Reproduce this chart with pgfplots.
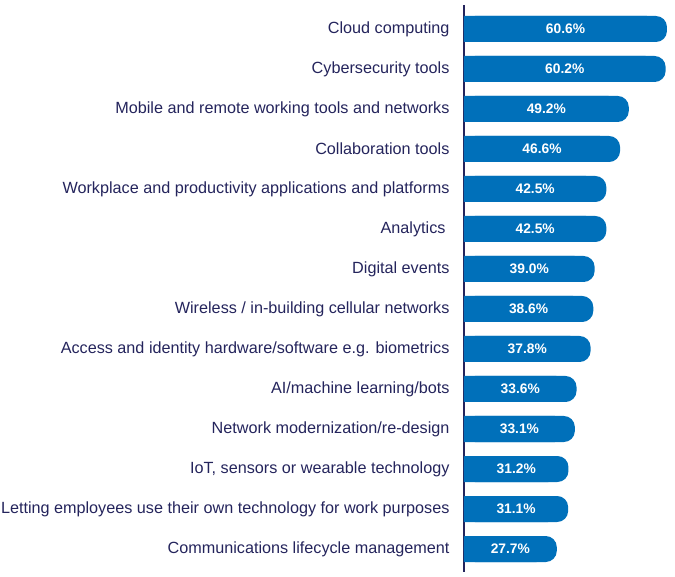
\documentclass[border=0pt]{standalone}
\usepackage{pgfplots}
\pgfplotsset{compat=1.18}
\usepackage{pgfplotstable}
\usepackage{fontspec}
\setmainfont{Liberation Sans}

\definecolor{barblue}{HTML}{0070BA}
\definecolor{navy}{HTML}{24245C}

% i = row from the top, v = share in percent
\pgfplotstableread{
i v
0 60.6
1 60.2
2 49.2
3 46.6
4 42.5
5 42.5
6 39.0
7 38.6
8 37.8
9 33.6
10 33.1
11 31.2
12 31.1
13 27.7
}\data

\begin{document}
\begin{tikzpicture}
\useasboundingbox (-464pt,-5pt) rectangle (211pt,572pt);
\begin{axis}[
  at={(0,0)}, anchor=south west,
  scale only axis,
  width=211pt, height=567pt,
  xmin=0, xmax=63,
  ymin=-0.6, ymax=13.575,
  y dir=reverse,
  axis x line=none,
  axis y line=left,
  y axis line style={-, draw=navy, line width=1.4pt},
  major tick length=0pt,
  ytick={0,...,13},
  yticklabels={
    Cloud computing,
    Cybersecurity tools,
    Mobile and remote working tools and networks,
    Collaboration tools,
    Workplace and productivity applications and platforms,
    {Analytics\hspace*{4pt}},
    Digital events,
    Wireless / in-building cellular networks,
    Access and identity hardware/software e.g. biometrics,
    AI/machine learning/bots,
    Network modernization/re-design,
    {IoT, sensors or wearable technology},
    Letting employees use their own technology for work purposes,
    Communications lifecycle management
  },
  yticklabel style={font=\fontsize{16.2}{19}\selectfont, text=navy, xshift=-11pt},
  /pgf/number format/assume math mode=true,
]
\addplot[xbar, bar width=26pt, fill=barblue, draw=none, rounded corners=11pt]
  table[x=v, y=i]{\data};
\addplot[xbar, bar width=26pt, fill=barblue, draw=none]
  table[x expr=\thisrow{v}-6, y=i]{\data};
\addplot[draw=none, mark=none, point meta=explicit,
  nodes near coords={\pgfmathprintnumber[fixed, fixed zerofill, precision=1]{\pgfplotspointmeta}\%},
  every node near coord/.style={anchor=center, text=white,
    font=\bfseries\fontsize{13.8}{16}\selectfont}]
  table[x expr=\thisrow{v}/2, y=i, meta=v]{\data};
\end{axis}
\end{tikzpicture}
\end{document}
